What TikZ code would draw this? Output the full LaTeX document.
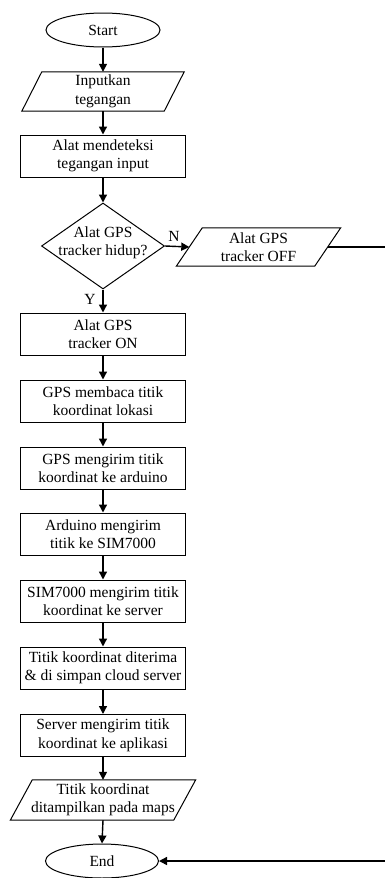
\documentclass[tikz,border=0pt]{standalone}
\usepackage{fontspec}
\setmainfont{Liberation Serif}
\usetikzlibrary{shapes.geometric,arrows.meta}

% slanted input/output box drawn around a borderless rectangle node
\newcommand\slantbox[2]{%
  \draw[line width=1pt] ([xshift=#2]#1.north west) -- ([xshift=#2]#1.north east)
    -- ([xshift=-#2]#1.south east) -- ([xshift=-#2]#1.south west) -- cycle;}

\begin{document}
\begin{tikzpicture}[x=1pt,y=-1pt,
  every node/.style={font=\fontsize{15.5}{18.5}\selectfont, align=center},
  term/.style={ellipse, draw, line width=1pt, minimum width=114pt, minimum height=34pt, inner sep=0pt},
  proc/.style={rectangle, draw, line width=1pt, minimum width=165pt, minimum height=42pt, inner sep=0pt},
  iobox/.style={rectangle, minimum width=#1, minimum height=39pt, inner sep=0pt},
  decision/.style={diamond, draw, line width=1pt, minimum width=123pt, minimum height=86pt, inner sep=0pt},
  flow/.style={line width=1.4pt, -{Triangle[length=8pt,width=8pt]}},
  lbl/.style={inner sep=0pt}
]
\useasboundingbox (0,0) rectangle (385,878);
\clip (0,0) rectangle (385,878);

\node[term] (start) at (103,30) {Start};

\node[iobox=142pt] (in) at (103,91.5) {Inputkan\\tegangan};
\slantbox{in}{10pt}

\node[proc] (det) at (103,156) {Alat mendeteksi\\tegangan input};

\node[decision] (dec) at (103,246) {};
\node[lbl] (dectext) at (103,243) {Alat GPS\\tracker hidup?};

\node[iobox=138pt, minimum height=38pt] (off) at (258.5,247) {Alat GPS\\tracker OFF};
\slantbox{off}{13pt}

\node[proc] (on)   at (103,334)   {Alat GPS\\tracker ON};
\node[proc] (baca) at (103,401)   {GPS membaca titik\\koordinat lokasi};
\node[proc] (kirim) at (103,468)  {GPS mengirim titik\\koordinat ke arduino};
\node[proc] (ard)  at (103,534)   {Arduino mengirim\\titik ke SIM7000};
\node[proc] (sim)  at (103,601)   {SIM7000 mengirim titik\\koordinat ke server};
\node[proc] (cloud) at (103,668)  {Titik koordinat diterima\\\& di simpan cloud server};
\node[proc] (srv)  at (103,735.5) {Server mengirim titik\\koordinat ke aplikasi};

\node[iobox=163pt, minimum height=40pt] (maps) at (103,800) {Titik koordinat\\ditampilkan pada maps};
\slantbox{maps}{11pt}

\node[term, minimum width=113pt] (end) at (102,861) {End};

\coordinate (rt) at (390,247);

\draw[flow] (start) -- (in);
\draw[flow] (in) -- (det);
\draw[flow] (det) -- (dec);
\draw[flow] (dec.east) -- (off.west);
\draw[flow] (dec.south) -- (on.north);
\draw[flow] (on) -- (baca);
\draw[flow] (baca) -- (kirim);
\draw[flow] (kirim) -- (ard);
\draw[flow] (ard) -- (sim);
\draw[flow] (sim) -- (cloud);
\draw[flow] (cloud) -- (srv);
\draw[flow] (srv) -- (maps);
\draw[flow] (maps.south) -- (end.north);
\draw[flow] (off.east) -- (rt) |- (end.east);

\node[lbl] (nlab) at (174,236) {N};
\node[lbl] (ylab) at (90,299) {Y};
\end{tikzpicture}
\end{document}
